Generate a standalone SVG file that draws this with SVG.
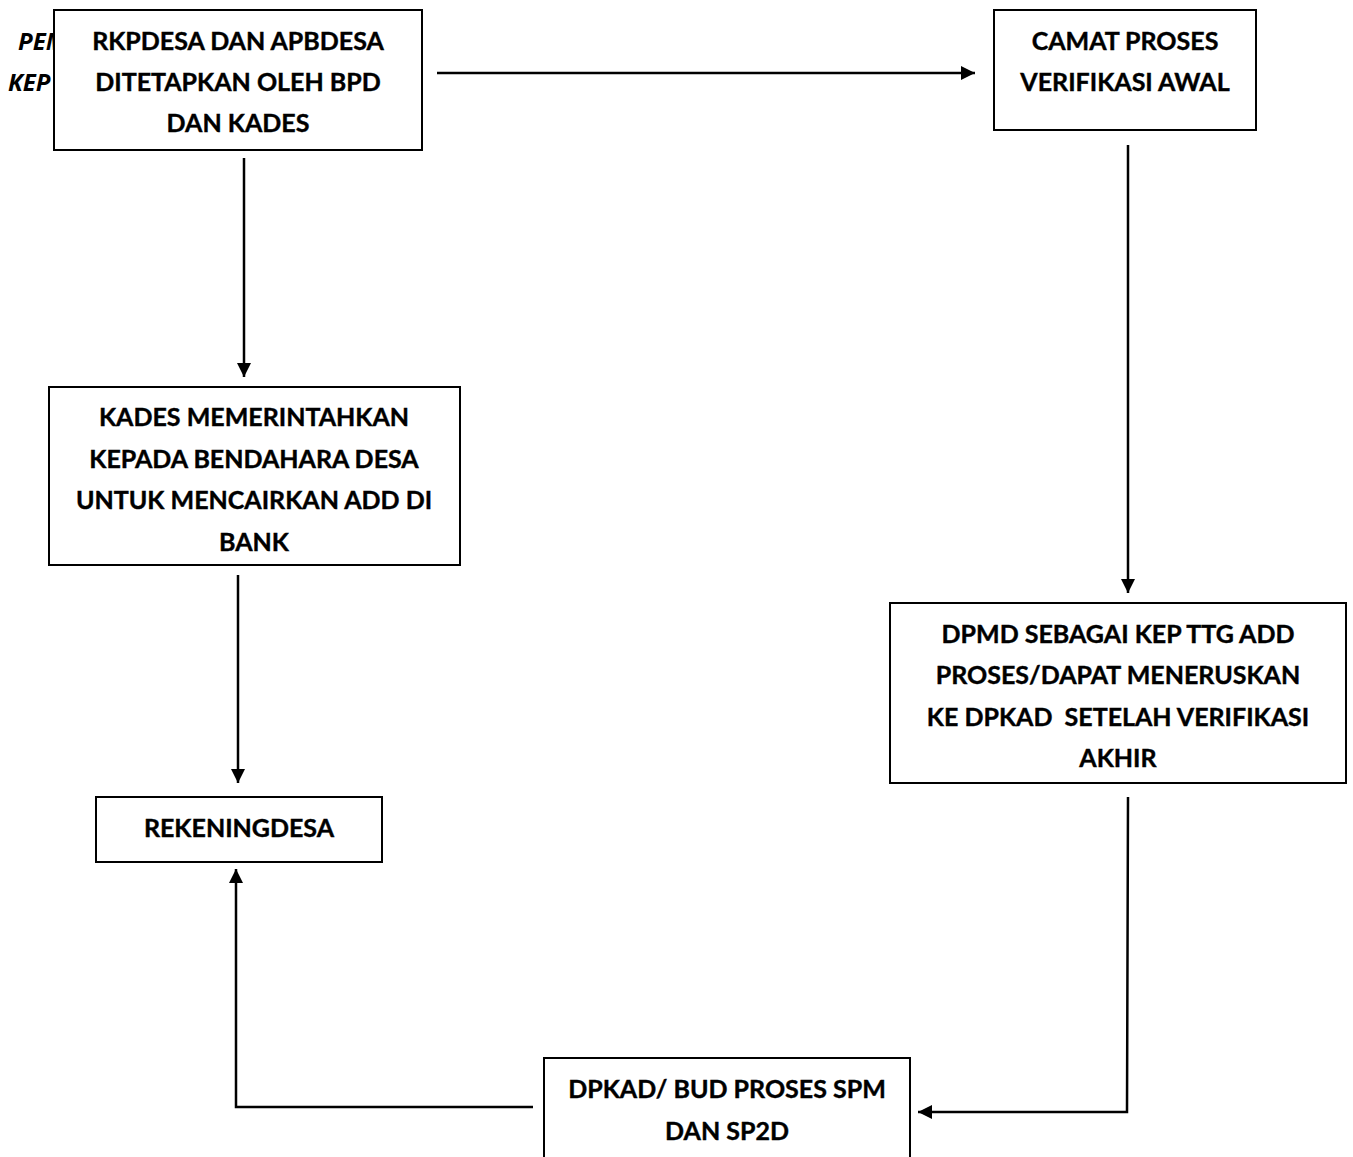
<svg xmlns="http://www.w3.org/2000/svg" width="1353" height="1157" viewBox="0 0 1353 1157">
<style>
.box{fill:#fff;stroke:#000;stroke-width:2}
.t{font-family:Lato,"Liberation Sans",sans-serif;font-weight:bold;font-size:25px;fill:#000;text-anchor:middle;dominant-baseline:central;stroke:#000;stroke-width:0.4}
.it{font-family:"Open Sans","Liberation Sans",sans-serif;font-weight:bold;font-style:italic;font-size:24px;fill:#000;dominant-baseline:central}
.c{fill:none;stroke:#000;stroke-width:2.5}
</style>
<defs>
<marker id="ah" viewBox="0 0 14 14" refX="14" refY="7" markerWidth="14" markerHeight="14" markerUnits="userSpaceOnUse" orient="auto">
<path d="M0,0 L14,7 L0,14 Z" fill="#000"/>
</marker>
</defs>
<text class="it" x="18" y="40">PEM</text>
<text class="it" x="8" y="81">KEP</text>
<g id="connectors">
<line class="c" x1="437" y1="73" x2="975" y2="73" marker-end="url(#ah)"/>
<line class="c" x1="244" y1="158" x2="244" y2="377" marker-end="url(#ah)"/>
<line class="c" x1="238" y1="575" x2="238" y2="783" marker-end="url(#ah)"/>
<line class="c" x1="1128" y1="145" x2="1128" y2="593" marker-end="url(#ah)"/>
<polyline class="c" points="1128,797 1127,1112 918,1112" marker-end="url(#ah)"/>
<polyline class="c" points="533,1107 236,1107 236,869" marker-end="url(#ah)"/>
</g>
<g id="n1">
<rect class="box" x="54" y="10" width="368" height="140"/>
<text class="t" x="238" y="40">RKPDESA DAN APBDESA</text>
<text class="t" x="238" y="81">DITETAPKAN OLEH BPD</text>
<text class="t" x="238" y="122">DAN KADES</text>
</g>
<g id="n2">
<rect class="box" x="994" y="10" width="262" height="120"/>
<text class="t" x="1125" y="40">CAMAT PROSES</text>
<text class="t" x="1125" y="81">VERIFIKASI AWAL</text>
</g>
<g id="n3">
<rect class="box" x="49" y="387" width="411" height="178"/>
<text class="t" x="254" y="416">KADES MEMERINTAHKAN</text>
<text class="t" x="254" y="458">KEPADA BENDAHARA DESA</text>
<text class="t" x="254" y="499">UNTUK MENCAIRKAN ADD DI</text>
<text class="t" x="254" y="541">BANK</text>
</g>
<g id="n4">
<rect class="box" x="96" y="797" width="286" height="65"/>
<text class="t" x="239" y="827">REKENINGDESA</text>
</g>
<g id="n5">
<rect class="box" x="890" y="603" width="456" height="180"/>
<text class="t" x="1118" y="633">DPMD SEBAGAI KEP TTG ADD</text>
<text class="t" x="1118" y="674">PROSES/DAPAT MENERUSKAN</text>
<text class="t" x="1118" y="716" xml:space="preserve">KE DPKAD  SETELAH VERIFIKASI</text>
<text class="t" x="1118" y="757">AKHIR</text>
</g>
<g id="n6">
<rect class="box" x="544" y="1058" width="366" height="110"/>
<text class="t" x="727" y="1088">DPKAD/ BUD PROSES SPM</text>
<text class="t" x="727" y="1130">DAN SP2D</text>
</g>
</svg>
